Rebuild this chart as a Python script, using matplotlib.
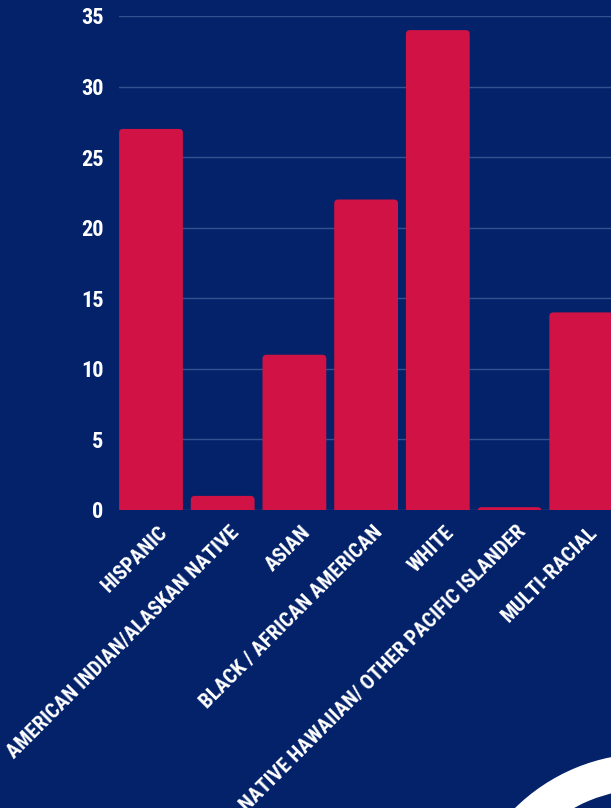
import matplotlib
matplotlib.use("Agg")
import matplotlib.pyplot as plt
from matplotlib.patches import FancyBboxPatch, Wedge
from matplotlib.transforms import ScaledTranslation

categories = [
    "HISPANIC",
    "AMERICAN INDIAN/ALASKAN NATIVE",
    "ASIAN",
    "BLACK / AFRICAN AMERICAN",
    "WHITE",
    "NATIVE HAWAIIAN/ OTHER PACIFIC ISLANDER",
    "MULTI-RACIAL",
]
values = [27, 1, 11, 22, 34, 0.2, 14]
yticks = [0, 5, 10, 15, 20, 25, 30, 35]

BG = "#03226a"
BAR = "#d01244"
GRID = "#34508f"
FONT = ["Roboto Condensed", "Fira Sans Condensed", "Barlow Condensed",
        "Liberation Sans Narrow", "DejaVu Sans"]

fig = plt.figure(figsize=(6.11, 8.08), dpi=100, facecolor=BG)
ax = fig.add_axes([119 / 611, 298 / 808, 492 / 611, 494 / 808])
ax.set_facecolor(BG)

x = list(range(len(categories)))
bars = ax.bar(x, values, width=0.89, color=BAR)

# swap plain bars for ones with rounded top corners
for b in bars:
    b.set_visible(False)
    box = FancyBboxPatch(
        (b.get_x(), b.get_y() - 2), b.get_width(), b.get_height() + 2,
        boxstyle="round,pad=0,rounding_size=0.056",
        mutation_aspect=5.06, facecolor=BAR, edgecolor="none", zorder=3,
    )
    ax.add_patch(box)

ax.set_xlim(-0.446, 6.415)
ax.set_ylim(0, 35)
ax.set_yticks(yticks)
ax.yaxis.grid(True, color=GRID, linewidth=1)
ax.set_axisbelow(True)
for s in ax.spines.values():
    s.set_visible(False)
ax.tick_params(length=0)
ax.tick_params(axis="y", pad=11)

ax.set_yticklabels([str(t) for t in yticks], color="white", fontsize=16,
                   fontweight="bold", family=FONT)
ax.set_xticks(x)
ax.set_xticklabels(categories, rotation=45, ha="right", va="top",
                   rotation_mode="anchor", color="white", fontsize=15,
                   fontweight="bold", family=FONT)
ax.tick_params(axis="x", pad=9)
for lab in ax.get_xticklabels():
    lab.set_transform(lab.get_transform() + ScaledTranslation(0.07, 0, fig.dpi_scale_trans))

# white ring in the bottom right corner
ring = Wedge((6.48, -1.35), 1.895, 0, 360, width=0.355, facecolor="white",
             edgecolor="none", transform=fig.dpi_scale_trans)
fig.patches.append(ring)

fig.savefig("out.png", dpi=100, facecolor=BG)
